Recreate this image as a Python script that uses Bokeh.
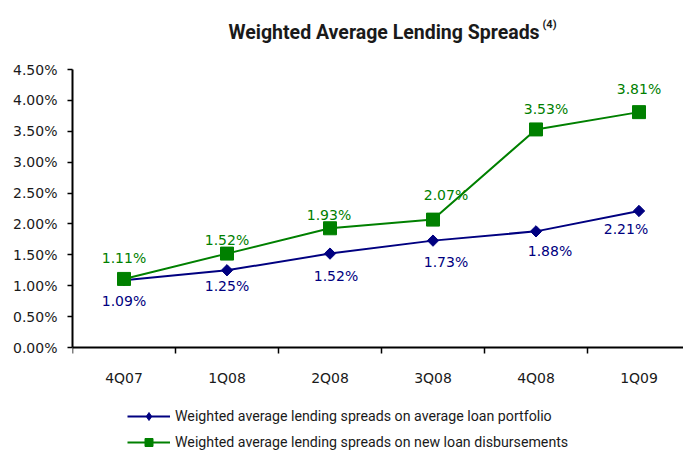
from bokeh.plotting import figure
from bokeh.models import Range1d, FixedTicker, Legend, LegendItem, ColumnDataSource, Label
from bokeh.core.properties import value
from bokeh.embed import file_html
from bokeh.resources import INLINE

# ---------------- data ----------------
quarters = ["4Q07", "1Q08", "2Q08", "3Q08", "4Q08", "1Q09"]
portfolio_spread = [1.09, 1.25, 1.52, 1.73, 1.88, 2.21]
new_loan_spread = [1.11, 1.52, 1.93, 2.07, 3.53, 3.81]
y_ticks = [0.0, 0.5, 1.0, 1.5, 2.0, 2.5, 3.0, 3.5, 4.0, 4.5]
y_tick_labels = ["0.00%", "0.50%", "1.00%", "1.50%", "2.00%", "2.50%",
                 "3.00%", "3.50%", "4.00%", "4.50%"]
portfolio_name = "Weighted average lending spreads on average loan portfolio"
new_loan_name = "Weighted average lending spreads on new loan disbursements"
title_text = "Weighted Average Lending Spreads"
title_note = "(4)"

# ---------------- layout / style ----------------
W, H = 683, 458
LEFT = 72            # y axis position (px)
AX_TOP_PX = 69       # pixel of top tick
AX_BOT_PX = 347      # pixel of zero line
CAT = 103.0          # px per category
NAVY = "#000080"
GREEN = "#008000"
TICK_FONT = "DejaVu Sans"
COND_FONT = "Roboto"

# per-point label offsets (px): horizontal shift, vertical distance from point
green_dx = [0, 0, -1, 13, 10, 0]
green_dy = [21, 14, 13, 25, 20, 23]
blue_dx = [0, 0, 6, 13, 14, -13]
blue_dy = [21, 16, 22, 21, 20, 18]

y_max = y_ticks[-1]
ppu = (AX_BOT_PX - AX_TOP_PX) / y_max
y_start = -(H - AX_BOT_PX) / ppu
y_end = y_max + AX_TOP_PX / ppu
x_end = (W - LEFT) / CAT - 0.5

p = figure(width=W, height=H, output_backend="svg", toolbar_location=None,
           x_range=Range1d(-0.5, x_end), y_range=Range1d(y_start, y_end),
           min_border_left=LEFT, min_border_right=0, min_border_top=0,
           min_border_bottom=0, background_fill_color="white",
           border_fill_color="white", outline_line_color=None)
p.grid.visible = False

idx = list(range(len(quarters)))

# x axis (fixed at zero)
xa = p.xaxis[0]
xa.fixed_location = 0
xa.ticker = FixedTicker(ticks=idx, minor_ticks=[i - 0.5 for i in idx])
xa.major_label_overrides = {i: q for i, q in zip(idx, quarters)}
xa.major_tick_out = 0
xa.major_tick_in = 0
xa.minor_tick_out = 6
xa.minor_tick_in = 0
xa.minor_tick_line_color = "black"
xa.minor_tick_line_width = 1.5
xa.axis_line_color = "black"
xa.axis_line_width = 2
xa.major_label_standoff = 16
xa.major_label_text_font = TICK_FONT
xa.major_label_text_font_size = "14px"
xa.major_label_text_color = "#1a1a1a"

# y axis
ya = p.yaxis[0]
ya.bounds = (0, y_max)
ya.ticker = FixedTicker(ticks=y_ticks, minor_ticks=[])
ya.major_label_overrides = {t: l for t, l in zip(y_ticks, y_tick_labels)}
ya.major_tick_out = 5
ya.major_tick_in = 0
ya.major_tick_line_color = "black"
ya.major_tick_line_width = 1.5
ya.axis_line_color = "black"
ya.axis_line_width = 2
ya.major_label_standoff = 10
ya.major_label_text_font = TICK_FONT
ya.major_label_text_font_size = "14px"
ya.major_label_text_color = "#1a1a1a"

# series
blue_line = p.line(idx, portfolio_spread, line_color=NAVY, line_width=2)
blue_pts = p.scatter(idx, portfolio_spread, marker="square", angle=0.785398,
                     size=8, fill_color=NAVY, line_color=NAVY)
# hidden twin used only for the legend swatch (legend markers are not rotated)
blue_key = p.scatter(idx, portfolio_spread, marker="diamond", size=8,
                     fill_color=NAVY, line_color=NAVY, visible=False)
green_line = p.line(idx, new_loan_spread, line_color=GREEN, line_width=2)
green_pts = p.scatter(idx, new_loan_spread, marker="square", size=13,
                      fill_color=GREEN, line_color=GREEN)

blue_src = ColumnDataSource(dict(x=idx, y=portfolio_spread,
                                 t=[f"{v:.2f}%" for v in portfolio_spread],
                                 dx=blue_dx, dy=blue_dy))
green_src = ColumnDataSource(dict(x=idx, y=new_loan_spread,
                                  t=[f"{v:.2f}%" for v in new_loan_spread],
                                  dx=green_dx, dy=[-d for d in green_dy]))
p.text(x="x", y="y", text="t", x_offset="dx", y_offset="dy", source=blue_src,
       text_align="center", text_baseline="middle", text_color=NAVY,
       text_font=value(TICK_FONT), text_font_size="14px")
p.text(x="x", y="y", text="t", x_offset="dx", y_offset="dy", source=green_src,
       text_align="center", text_baseline="middle", text_color=GREEN,
       text_font=value(TICK_FONT), text_font_size="14px")

# title (screen units relative to the frame's bottom-left corner)
p.add_layout(Label(x=228 - LEFT, y=H - 32, x_units="screen", y_units="screen",
                   text=title_text, text_font=COND_FONT, text_font_size="19.5px",
                   text_font_style="bold", text_color="#1a1a1a",
                   text_baseline="alphabetic", text_align="left"))
p.add_layout(Label(x=542 - LEFT, y=H - 24, x_units="screen", y_units="screen",
                   text=title_note, text_font=COND_FONT, text_font_size="11px",
                   text_font_style="bold", text_color="#1a1a1a",
                   text_baseline="alphabetic", text_align="left"))

legend = Legend(items=[LegendItem(label=portfolio_name, renderers=[blue_line, blue_key]),
                       LegendItem(label=new_loan_name, renderers=[green_line, green_pts])],
                location=(127 - LEFT, 6), orientation="vertical",
                glyph_width=43, glyph_height=20, label_height=20, spacing=6,
                label_standoff=5, padding=0, margin=0,
                border_line_color=None, background_fill_alpha=0,
                label_text_font=COND_FONT, label_text_font_size="14.2px",
                label_text_color="#1a1a1a")
p.add_layout(legend, "center")

open("out.html", "w").write(file_html(p, INLINE))
